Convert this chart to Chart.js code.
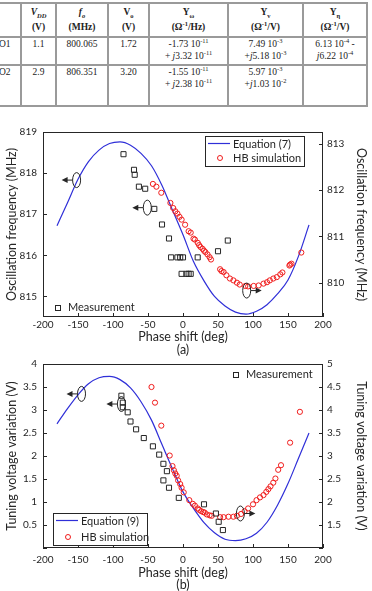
<!DOCTYPE html>
<html>
<head>
<meta charset="utf-8">
<script src="https://cdn.jsdelivr.net/npm/chart.js@4.4.1/dist/chart.umd.min.js"></script>
<style>
  body { margin: 0; width: 372px; height: 591px; overflow: hidden; background: #fff; position: relative; }
  .tbl { position: absolute; left: -2px; top: 2px; border-collapse: collapse;
         font-family: "Liberation Serif", "DejaVu Serif", serif; font-size: 9.5px; color: #222; }
  .tbl td { border: 2px solid #9a9a9a; text-align: center; vertical-align: top; padding: 0 1px; line-height: 12px; }
  .tbl tr.hd td { font-weight: bold; vertical-align: middle; line-height: 15px; }
  .tbl td.first { text-align: left; border-left: none; }
  .tbl sub, .tbl sup { font-size: 68%; line-height: 0; }
  .wrap { position: absolute; left: 0; width: 372px; }
  .cap { position: absolute; left: 0; width: 366px; text-align: center; font-family: Lato, sans-serif; font-size: 12.5px; color: #262626; }
</style>
</head>
<body>
<table class="tbl">
  <colgroup>
    <col style="width:23px"><col style="width:35px"><col style="width:52px"><col style="width:41px">
    <col style="width:79px"><col style="width:75px"><col style="width:64px">
  </colgroup>
  <tr class="hd" style="height:34px">
    <td class="first"></td>
    <td><i>V<sub>DD</sub></i><br>(V)</td>
    <td><i>f<sub>o</sub></i><br>(MHz)</td>
    <td>V<sub>o</sub><br>(V)</td>
    <td>Y<sub>ω</sub><br>(Ω<sup>-1</sup>/Hz)</td>
    <td>Y<sub>v</sub><br>(Ω<sup>-1</sup>/V)</td>
    <td>Y<sub>η</sub><br>(Ω<sup>-1</sup>/V)</td>
  </tr>
  <tr style="height:28px">
    <td class="first">O1</td><td>1.1</td><td>800.065</td><td>1.72</td>
    <td>-1.73 10<sup>-11</sup><br>+ <i>j</i>3.32 10<sup>-11</sup></td>
    <td>7.49 10<sup>-3</sup><br>+<i>j</i>5.18 10<sup>-3</sup></td>
    <td>6.13 10<sup>-4</sup> -<br><i>j</i>6.22 10<sup>-4</sup></td>
  </tr>
  <tr style="height:41px">
    <td class="first">O2</td><td>2.9</td><td>806.351</td><td>3.20</td>
    <td>-1.55 10<sup>-11</sup><br>+ <i>j</i>2.38 10<sup>-11</sup></td>
    <td>5.97 10<sup>-3</sup><br>+<i>j</i>1.03 10<sup>-2</sup></td>
    <td></td>
  </tr>
</table>

<div class="wrap" style="top:118px;height:226px"><canvas id="chartA"></canvas></div>
<div class="cap" style="top:342px">(a)</div>
<div class="wrap" style="top:352px;height:239px"><canvas id="chartB"></canvas></div>
<div class="cap" style="top:577px">(b)</div>

<script>
// ---- data ----
// equation curves, sampled every 15 deg
const phaseGrid = [-180, -165, -150, -135, -120, -105, -90, -75, -60, -45, -30, -15, 0,
                   15, 30, 45, 60, 75, 90, 105, 120, 135, 150, 165, 180];
const eqFreqA = [816.72, 817.28, 817.85, 818.28, 818.56, 818.72, 818.76, 818.68, 818.48, 818.18, 817.70, 817.10, 816.50,
                 815.85, 815.38, 815.00, 814.77, 814.62, 814.57, 814.64, 814.80, 815.06, 815.40, 815.98, 816.74];
const eqVoltB = [2.70, 3.03, 3.33, 3.57, 3.70, 3.73, 3.66, 3.48, 3.18, 2.78, 2.25, 1.72, 1.22,
                 0.86, 0.55, 0.33, 0.19, 0.16, 0.20, 0.32, 0.56, 0.93, 1.40, 1.95, 2.50];

// (a) measurement, left axis (MHz)
const measPhaseA = [-85, -70, -69, -63, -54, -41, -30, -20, -17, -8, -4, 0, 21, -2, 5, 8, 11, 50, 64];
const measFreqA = [818.46, 818.08, 817.96, 817.67, 817.62, 817.13, 816.75, 816.41, 815.95, 815.95, 815.95, 815.95, 815.95,
                   815.55, 815.55, 815.55, 815.55, 816.10, 816.36];
// (a) HB simulation, right axis (MHz)
const hbPhaseA = [-43, -38, -31, -18, -14, -11, -8, -5, -2, 3, 8, 11, 15, 17, 21, 23, 25, 28, 30, 32,
                  35, 38, 40, 53, 55, 58, 62, 67, 72, 77, 81, 89, 93, 101, 108, 115, 120, 124, 129, 134,
                  139, 142, 152, 153, 155, 169];
const hbFreqA = [812.13, 812.07, 811.94, 811.72, 811.61, 811.54, 811.49, 811.42, 811.36, 811.25,
                 811.11, 811.08, 810.95, 810.93, 810.86, 810.81, 810.77, 810.73, 810.69, 810.66,
                 810.61, 810.55, 810.50, 810.29, 810.25, 810.23, 810.16, 810.09, 810.05, 810.00,
                 809.96, 809.93, 809.92, 809.93, 809.94, 809.98, 810.01, 810.05, 810.09, 810.12,
                 810.18, 810.22, 810.37, 810.39, 810.41, 810.65];

// (b) measurement, left axis (V)
const measPhaseB = [-88, -86, -86, -79, -75, -67, -56, -43, -34, -28, -23, -28, -20, -6, 30, 47, 51, 57];
const measVoltB = [3.31, 3.16, 3.06, 2.95, 2.75, 2.58, 2.39, 2.21, 2.03, 1.83, 1.67, 1.47, 1.31, 1.09, 0.95, 0.75, 0.57, 0.39];
// (b) HB simulation, right axis (V)
const hbPhaseB = [-45, -40, -31, -19, -15, -13, -11, -9, -7, -4, -2, 1, 9, 14, 17, 21, 23, 26, 29, 31,
                  34, 38, 41, 53, 58, 65, 72, 77, 83, 88, 93, 100, 105, 110, 115, 119, 122, 125, 129, 132,
                  136, 140, 153, 167];
const hbVoltB = [4.50, 4.16, 3.66, 3.01, 2.78, 2.69, 2.62, 2.57, 2.47, 2.39, 2.31, 2.21, 2.04, 1.96, 1.92, 1.86, 1.83, 1.80, 1.78, 1.77,
                 1.73, 1.71, 1.70, 1.67, 1.67, 1.68, 1.68, 1.70, 1.74, 1.80, 1.86, 1.95, 2.04, 2.10, 2.15, 2.22, 2.28, 2.34, 2.42, 2.51,
                 2.70, 2.80, 3.29, 3.96];

// ellipse + arrow markers (data coords, which axis they point to)
const markersA = [{x: -152, y: 817.83, axis: 'y', dir: -1}, {x: -51, y: 817.16, axis: 'y', dir: -1}, {x: 91, y: 809.83, axis: 'y2', dir: 1}];
const markersB = [{x: -145, y: 3.35, axis: 'y', dir: -1}, {x: -88, y: 3.13, axis: 'y', dir: -1}, {x: 82, y: 1.75, axis: 'y2', dir: 1}];

const INK = '#262626', BLUE = '#2f2fd8', RED = '#f01c1c';
const FONT = 'Lato, "Open Sans", sans-serif';

function pts(xs, ys) { return xs.map((x, i) => ({x, y: ys[i]})); }

// frame, inside ticks, ellipse markers and legends
const decor = {
  id: 'decor',
  afterDraw(chart, args, o) {
    const {ctx, chartArea: a, scales} = chart;
    ctx.save();
    ctx.strokeStyle = INK; ctx.fillStyle = INK; ctx.lineWidth = 1;
    ctx.strokeRect(Math.round(a.left) + 0.5, Math.round(a.top) + 0.5, Math.round(a.right - a.left) - 1, Math.round(a.bottom - a.top) - 1);
    ctx.beginPath();
    scales.x.ticks.forEach(t => {
      const px = Math.round(scales.x.getPixelForValue(t.value)) + 0.5;
      ctx.moveTo(px, a.bottom); ctx.lineTo(px, a.bottom - 4);
    });
    scales.y.ticks.forEach(t => {
      const py = Math.round(scales.y.getPixelForValue(t.value)) + 0.5;
      ctx.moveTo(a.left, py); ctx.lineTo(a.left + 4, py);
    });
    scales.y2.ticks.forEach(t => {
      const py = Math.round(scales.y2.getPixelForValue(t.value)) + 0.5;
      ctx.moveTo(a.right, py); ctx.lineTo(a.right - 4, py);
    });
    ctx.stroke();

    // ellipses with arrows
    o.markers.forEach(m => {
      const cx = scales.x.getPixelForValue(m.x), cy = scales[m.axis].getPixelForValue(m.y);
      ctx.beginPath(); ctx.ellipse(cx, cy, 4, 7.5, 0, 0, Math.PI * 2); ctx.stroke();
      const x0 = cx + m.dir * 4, tip = cx + m.dir * 15;
      ctx.beginPath(); ctx.moveTo(x0, cy); ctx.lineTo(tip - m.dir * 5, cy); ctx.stroke();
      ctx.beginPath(); ctx.moveTo(tip, cy); ctx.lineTo(tip - m.dir * 6, cy - 3); ctx.lineTo(tip - m.dir * 6, cy + 3); ctx.closePath(); ctx.fill();
    });

    // legends
    ctx.font = '11px ' + FONT; ctx.textBaseline = 'middle'; ctx.textAlign = 'left';
    const L = o.legend, bx = a.left + L.dx, by = L.fromBottom ? a.bottom - L.dy - L.h : a.top + L.dy;
    ctx.fillStyle = '#fff'; ctx.fillRect(bx, by, L.w, L.h);
    ctx.strokeRect(Math.round(bx) + 0.5, Math.round(by) + 0.5, L.w, L.h);
    ctx.strokeStyle = BLUE; ctx.lineWidth = 1.2;
    ctx.beginPath(); ctx.moveTo(bx + 3, by + 7.5); ctx.lineTo(bx + 25, by + 7.5); ctx.stroke();
    ctx.strokeStyle = RED; ctx.lineWidth = 1;
    ctx.beginPath(); ctx.arc(bx + 15, by + L.h - 8, 2.5, 0, Math.PI * 2); ctx.stroke();
    ctx.fillStyle = INK;
    ctx.fillText(L.eq, bx + 28, by + 8);
    ctx.fillText('HB simulation', bx + 28, by + L.h - 8);

    const M = o.meas, mx = a.left + M.dx, my = M.fromBottom ? a.bottom - M.dy : a.top + M.dy;
    ctx.strokeStyle = INK;
    ctx.strokeRect(Math.round(mx - 2.5) + 0.5, Math.round(my - 2.5) + 0.5, 5, 5);
    ctx.fillText('Measurement', mx + 11, my + 0.5);
    ctx.restore();
  }
};

function makeChart(id, o) {
  const tickFont = {family: FONT, size: 10};
  const titleFont = {family: FONT, size: 12.5};
  const noGrid = {display: false, drawTicks: false};
  return new Chart(document.getElementById(id), {
    type: 'scatter',
    data: {
      datasets: [
        {label: 'Measurement', data: o.meas, yAxisID: 'y', pointStyle: 'rect', pointRadius: 3.6,
         borderColor: INK, backgroundColor: 'transparent', borderWidth: 1},
        {label: 'HB simulation', data: o.hb, yAxisID: 'y2', pointStyle: 'circle', pointRadius: 2.6,
         borderColor: RED, backgroundColor: 'transparent', borderWidth: 1},
        {label: o.eqLabel, data: o.eq, yAxisID: 'y', showLine: true, pointRadius: 0,
         borderColor: BLUE, borderWidth: 1.2, cubicInterpolationMode: 'monotone', fill: false}
      ]
    },
    options: {
      responsive: true, maintainAspectRatio: false, animation: false,
      layout: {padding: {top: o.padTop, left: 0, right: 0, bottom: 0}},
      plugins: {legend: {display: false}, tooltip: {enabled: false},
                decor: {markers: o.markers, legend: o.legend, meas: o.measLegend}},
      scales: {
        x: {type: 'linear', min: -200, max: 200,
            ticks: {stepSize: 50, color: INK, font: tickFont, padding: o.xPad, maxRotation: 0},
            grid: noGrid, border: {display: false},
            title: {display: true, text: 'Phase shift (deg)', color: INK, font: titleFont, padding: {top: 0, bottom: o.xTitlePad}},
            afterFit: s => { s.height = o.xH; }},
        y: {position: 'left', min: o.yMin, max: o.yMax,
            ticks: {stepSize: o.yStep, includeBounds: false, color: INK, font: tickFont, padding: 6,
                    callback: v => (v === o.yMin ? '' : String(v))},
            grid: noGrid, border: {display: false},
            title: {display: true, text: o.yTitle, color: INK, font: titleFont, padding: {top: 4, bottom: 0}},
            afterFit: s => { s.width = 43; }},
        y2: {position: 'right', min: o.y2Min, max: o.y2Max,
             ticks: {stepSize: o.yStep, includeBounds: false, color: INK, font: tickFont, padding: 4,
                     callback: v => (v === o.y2Min ? '' : String(v))},
             grid: noGrid, border: {display: false},
             title: {display: true, text: o.yTitle, color: INK, font: titleFont, padding: {top: 3, bottom: 0}},
             afterFit: s => { s.width = 49; }}
      }
    },
    plugins: [decor]
  });
}

makeChart('chartA', {
  meas: pts(measPhaseA, measFreqA), hb: pts(hbPhaseA, hbFreqA), eq: pts(phaseGrid, eqFreqA),
  eqLabel: 'Equation (7)', yTitle: 'Oscillation frequency (MHz)',
  yMin: 814.5, yMax: 819, y2Min: 809.26, y2Max: 813.25, yStep: 1,
  padTop: 14, xH: 27, xPad: 2, xTitlePad: 0, markers: markersA,
  legend: {dx: 162, dy: 4, w: 99, h: 30, eq: 'Equation (7)', fromBottom: false},
  measLegend: {dx: 14, dy: 10, fromBottom: true}
});

makeChart('chartB', {
  meas: pts(measPhaseB, measVoltB), hb: pts(hbPhaseB, hbVoltB), eq: pts(phaseGrid, eqVoltB),
  eqLabel: 'Equation (9)', yTitle: 'Tuning voltage variation (V)',
  yMin: 0, yMax: 4, y2Min: 1, y2Max: 5, yStep: 0.5,
  padTop: 11, xH: 43, xPad: 6, xTitlePad: 11, markers: markersB,
  legend: {dx: 10, dy: 3, w: 94, h: 32, eq: 'Equation (9)', fromBottom: true},
  measLegend: {dx: 192, dy: 10, fromBottom: false}
});
</script>
</body>
</html>
